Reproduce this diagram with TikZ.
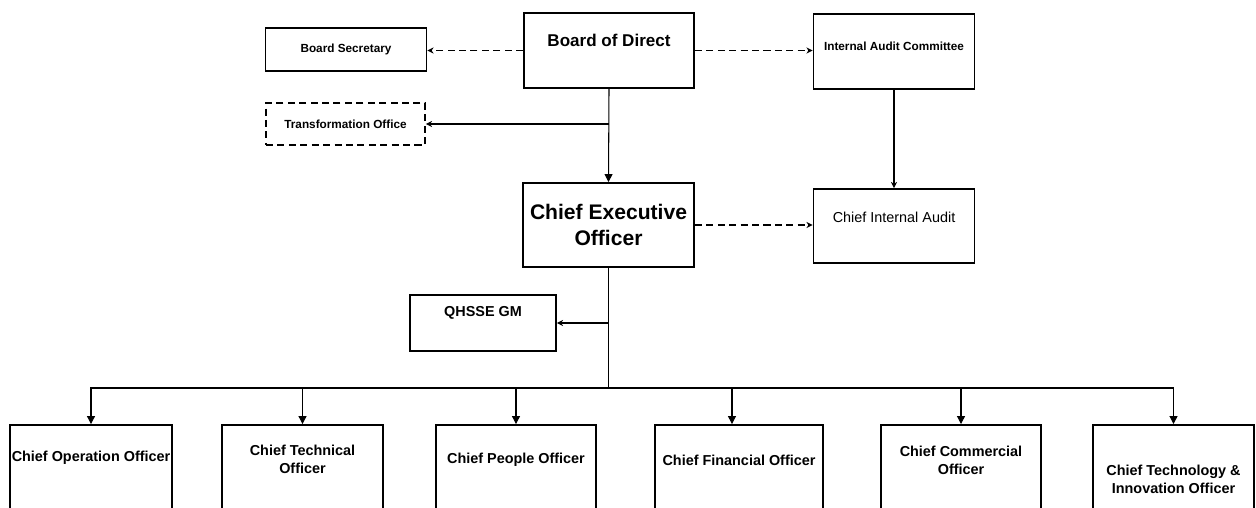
\documentclass[tikz,border=0pt]{standalone}
\usepackage{fontspec}
\setmainfont{Liberation Sans}
\usetikzlibrary{arrows.meta,positioning}

\begin{document}
\begin{tikzpicture}[x=0.02cm,y=-0.02cm,
    unit/.style={draw,line width=1.1pt,inner sep=0pt,minimum width=3.22cm},
    chief/.style={unit,minimum height=2cm},
    smalltxt/.style={font=\bfseries\fontsize{6.7}{8}\selectfont},
    headtxt/.style={font=\bfseries\fontsize{9.7}{12}\selectfont},
    ceotxt/.style={font=\bfseries\fontsize{12}{14.6}\selectfont,align=center},
    audittxt/.style={font=\fontsize{8.2}{10}\selectfont},
    roletxt/.style={font=\bfseries\fontsize{8.2}{10.2}\selectfont,align=center},
    link/.style={line width=0.6pt,-{Triangle[length=4.5pt,width=4.5pt]}},
    thinlink/.style={line width=0.6pt,-{Stealth[length=3.5pt,width=3.5pt]}},
    dashlink/.style={thinlink,dash pattern=on 4pt off 2.5pt}]
  \useasboundingbox (0,0) rectangle (1256,507);

  \node[unit,minimum height=0.86cm,label={[smalltxt]center:Board Secretary}] (bsec) at (346,49.5) {};
  \node[unit,dash pattern=on 4pt off 2.5pt,minimum width=3.18cm,minimum height=0.84cm,
        label={[smalltxt]center:Transformation Office}] (trans) at (345.5,124) {};
  \node[unit,minimum width=3.4cm,minimum height=1.5cm,
        label={[headtxt,yshift=6pt]center:Board of Direct}] (bod) at (609,50.5) {};
  \node[unit,minimum height=1.5cm,
        label={[smalltxt,yshift=3pt]center:Internal Audit Committee}] (iac) at (894,51.5) {};
  \node[unit,minimum width=3.42cm,minimum height=1.68cm,
        label={[ceotxt]center:Chief Executive\\Officer}] (ceo) at (608.5,225) {};
  \node[unit,minimum height=1.48cm,
        label={[audittxt,yshift=5pt]center:Chief Internal Audit}] (cia) at (894,226) {};
  \node[unit,minimum width=2.92cm,minimum height=1.12cm,
        label={[headtxt,font=\bfseries\fontsize{8.2}{10}\selectfont,yshift=5.7pt]center:QHSSE GM}] (qhsse) at (483,323) {};

  \node[chief,minimum width=3.24cm,label={[roletxt,yshift=9.7pt]center:Chief Operation Officer}] (coo) at (91,475) {};
  \node[chief,label={[roletxt,yshift=9pt]center:Chief Technical\\Officer}] (cto) at (302.5,475) {};
  \node[chief,minimum width=3.2cm,label={[roletxt,yshift=8.5pt]center:Chief People Officer}] (cpo) at (516,475) {};
  \node[chief,minimum width=3.36cm,label={[roletxt,yshift=8.5pt]center:Chief Financial Officer}] (cfo) at (739,475) {};
  \node[chief,minimum width=3.2cm,label={[roletxt,yshift=8.3pt]center:Chief Commercial\\Officer}] (cco) at (961,475) {};
  \node[chief,label={[roletxt,yshift=-2.3pt]center:Chief Technology \&\\Innovation Officer}] (ctio) at (1173.5,475) {};

  \coordinate (split) at (bod.south |- trans.east);
  \coordinate (qtap) at (ceo.south |- qhsse.east);
  \coordinate (bus) at (608.5,388);

  \draw[dashlink] (bod.west) -- (bod.west -| bsec.east);
  \draw[dashlink] (bod.east) -- (bod.east -| iac.west);
  \draw[link] (bod.south) -- (ceo.north);
  \draw[thinlink] (split) -- (trans.east);
  \draw[thinlink] (iac.south) -- (cia.north);
  \draw[dashlink] (ceo.east) -- (ceo.east -| cia.west);
  \draw[line width=0.6pt] (ceo.south) -- (bus);
  \draw[thinlink] (qtap) -- (qhsse.east);
  \foreach \role in {coo,cto,cpo,cco,ctio}
    \draw[link] (bus) -| (\role.north);
  \draw[link] (bus) -| ([xshift=-4pt]cfo.north);
\end{tikzpicture}
\end{document}
